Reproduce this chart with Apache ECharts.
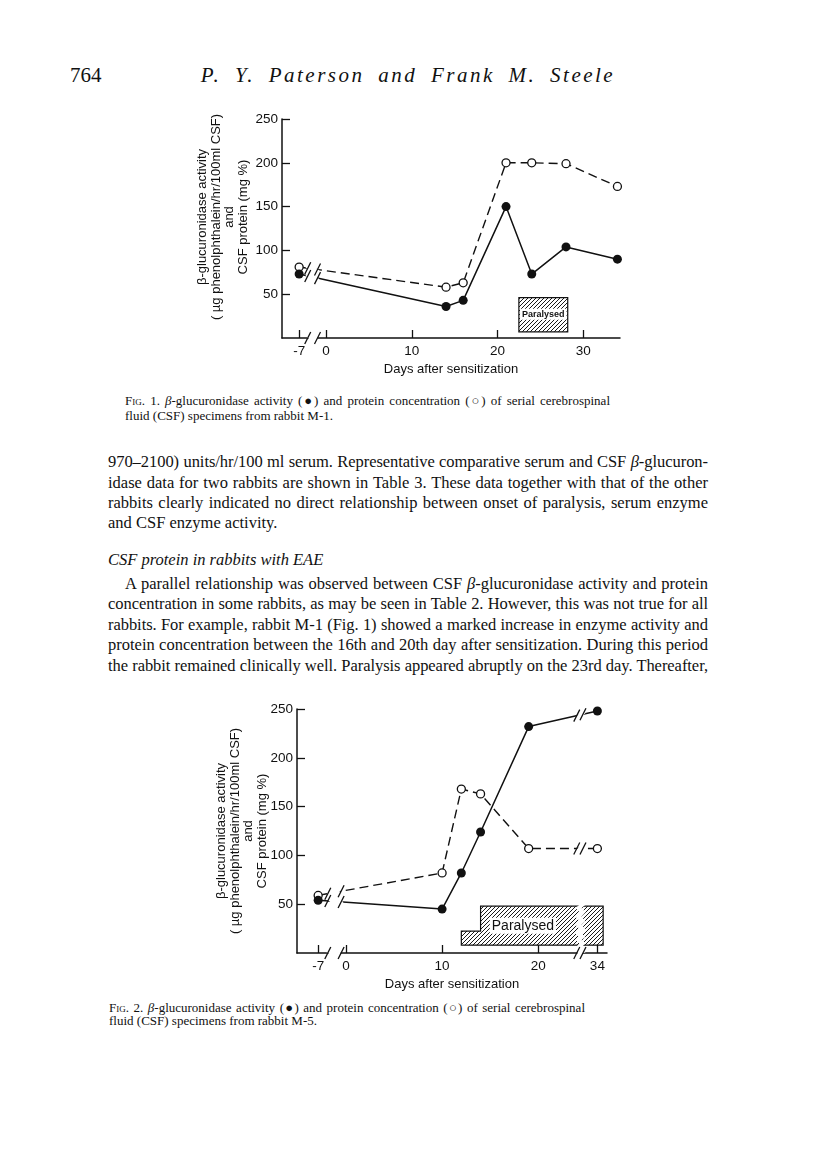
<!DOCTYPE html>
<html>
<head>
<meta charset="utf-8">
<script src="https://cdn.jsdelivr.net/npm/echarts@6.0.0/dist/echarts.min.js"></script>
<style>
  body { margin: 0; width: 816px; height: 1151px; position: relative; overflow: hidden; background: #fff; color: #111; font-family: "Liberation Serif", serif; }
  .t { position: absolute; white-space: normal; }
  .j { text-align: justify; text-align-last: justify; }
  .body { left: 108px; width: 600px; font-size: 16.5px; line-height: 20px; }
  .cap { font-size: 13px; line-height: 14px; }
  .sc { font-variant: small-caps; }
  .chart { position: absolute; left: 0; width: 816px; }
</style>
</head>
<body>
<div class="t" style="left:70px;top:63px;font-size:21px;line-height:24px;">764</div>
<div class="t" style="left:186px;top:63px;width:444px;font-size:21px;line-height:24px;font-style:italic;text-align:center;letter-spacing:2.5px;word-spacing:6px;">P. Y. Paterson and Frank M. Steele</div>

<div id="fig1" class="chart" style="top:90px;height:300px;"></div>

<div class="t cap j" style="left:125px;top:394px;width:485px;"><span class="sc">Fig</span>. 1. <i>β</i>-glucuronidase activity (●) and protein concentration (○) of serial cerebrospinal</div>
<div class="t cap" style="left:125px;top:409px;">fluid (CSF) specimens from rabbit M-1.</div>

<div class="t body j" style="top:452px;">970–2100) units/hr/100 ml serum. Representative comparative serum and CSF <i>β</i>-glucuron-</div>
<div class="t body j" style="top:473px;">idase data for two rabbits are shown in Table 3. These data together with that of the other</div>
<div class="t body j" style="top:493px;">rabbits clearly indicated no direct relationship between onset of paralysis, serum enzyme</div>
<div class="t body" style="top:513px;">and CSF enzyme activity.</div>
<div class="t body" style="top:550px;font-style:italic;">CSF protein in rabbits with EAE</div>
<div class="t body j" style="top:574px;left:125px;width:583px;">A parallel relationship was observed between CSF <i>β</i>-glucuronidase activity and protein</div>
<div class="t body j" style="top:594px;">concentration in some rabbits, as may be seen in Table 2. However, this was not true for all</div>
<div class="t body j" style="top:615px;">rabbits. For example, rabbit M-1 (Fig. 1) showed a marked increase in enzyme activity and</div>
<div class="t body j" style="top:635px;">protein concentration between the 16th and 20th day after sensitization. During this period</div>
<div class="t body j" style="top:656px;">the rabbit remained clinically well. Paralysis appeared abruptly on the 23rd day. Thereafter,</div>

<div id="fig2" class="chart" style="top:690px;height:310px;"></div>

<div class="t cap j" style="left:109px;top:1001px;width:476px;"><span class="sc">Fig</span>. 2. <i>β</i>-glucuronidase activity (●) and protein concentration (○) of serial cerebrospinal</div>
<div class="t cap" style="left:109px;top:1014px;">fluid (CSF) specimens from rabbit M-5.</div>

<script>
// Fig. 1, rabbit M-1
const fig1Days = [-7, 14, 16, 21, 24, 28, 34];
const fig1Enzyme = [73, 36, 43, 150, 73, 104, 90];
const fig1Protein = [81, 58, 63, 200, 200, 199, 173];
const fig1Ticks = [-7, 0, 10, 20, 30];
// paralysed period: days x protein-scale height
const fig1ParalysedDays = [22.5, 28.2];
const fig1ParalysedLevels = [7, 46];

// Fig. 2, rabbit M-5
const fig2Days = [-7, 10, 12, 14, 19, 34];
const fig2Enzyme = [54, 45, 82, 124, 232, 248];
const fig2Protein = [59, 82, 168, 163, 107, 107];
const fig2Ticks = [-7, 0, 10, 20, 34];
const fig2ParalysedDays = [12, 14, 34.6];
const fig2ParalysedLevels = [8, 22.5, 48];

const yTicks = [50, 100, 150, 200, 250];
const yTitle = 'β-glucuronidase activity\n( µg phenolphthalein/hr/100ml CSF)\nand\nCSF protein (mg %)';

const INK = '#111';
const SANS = '"Liberation Sans", Arial, sans-serif';

// squeeze each printed line so it stays on one line
document.querySelectorAll('.t').forEach(el => {
  const lh = parseFloat(getComputedStyle(el).lineHeight);
  let ls = parseFloat(el.style.letterSpacing) || 0;
  while (el.offsetHeight > lh * 1.5 && ls > -2) {
    ls -= 0.05;
    el.style.letterSpacing = ls + 'px';
  }
});

// hatch for the "Paralysed" boxes
const hatch = document.createElement('canvas');
hatch.width = 4; hatch.height = 4;
(function () {
  const c = hatch.getContext('2d');
  c.strokeStyle = '#1a1a1a';
  c.lineWidth = 1;
  c.beginPath();
  c.moveTo(0, 4); c.lineTo(4, 0);
  c.moveTo(-1, 1); c.lineTo(1, -1);
  c.moveTo(3, 5); c.lineTo(5, 3);
  c.stroke();
})();

function pairs(xs, ys) {
  return xs.map((x, i) => [x, ys[i]]);
}

function buildOption(cfg) {
  return {
    animation: false,
    grid: cfg.grid,
    xAxis: {
      type: 'value',
      z: 10,
      min: cfg.xMin,
      max: cfg.xMax,
      breaks: cfg.breaks,
      breakArea: {
        show: true,
        itemStyle: { color: '#fff', borderWidth: 0, opacity: 1 },
        zigzagAmplitude: 2,
        zigzagMinSpan: 3,
        zigzagMaxSpan: 5,
        zigzagZ: 100,
        expandOnClick: false
      },
      name: 'Days after sensitization',
      nameLocation: 'middle',
      nameGap: cfg.nameGap,
      nameTextStyle: { fontFamily: SANS, fontSize: 13, color: INK },
      axisLine: { onZero: false, lineStyle: { color: INK, width: 1.5 } },
      axisTick: { inside: true, length: 8, customValues: cfg.ticks, lineStyle: { color: INK, width: 1.3 } },
      axisLabel: { customValues: cfg.ticks, fontFamily: SANS, fontSize: 13.5, color: INK, margin: 6 },
      splitLine: { show: false }
    },
    yAxis: {
      type: 'value',
      min: 0,
      max: 250,
      interval: 50,
      axisLine: { show: true, onZero: false, lineStyle: { color: INK, width: 1.5 } },
      axisTick: { inside: true, length: 8, customValues: yTicks, lineStyle: { color: INK, width: 1.3 } },
      axisLabel: { customValues: yTicks, fontFamily: SANS, fontSize: 13.5, color: INK, margin: 4 },
      splitLine: { show: false }
    },
    graphic: [{
      type: 'text',
      x: cfg.titleX,
      y: cfg.titleY,
      rotation: Math.PI / 2,
      style: {
        text: yTitle,
        fontFamily: SANS,
        fontSize: 13,
        lineHeight: 13.4,
        fill: INK,
        align: 'center',
        verticalAlign: 'middle'
      }
    }],
    series: [
      {
        type: 'custom',
        z: 1,
        data: [0],
        renderItem: function (params, api) {
          const pts = cfg.paraPoly.map(p => api.coord(p));
          const c = api.coord(cfg.paraLabel);
          return {
            type: 'group',
            children: [
              { type: 'polygon', shape: { points: pts },
                style: { fill: { image: hatch, repeat: 'repeat' }, stroke: INK, lineWidth: 1.2 } },
              { type: 'text', x: c[0], y: c[1],
                style: { text: 'Paralysed', fill: INK, font: cfg.paraFont, align: 'center', verticalAlign: 'middle',
                         backgroundColor: '#fff', padding: [1, 2] } }
            ]
          };
        }
      },
      {
        name: 'protein',
        type: 'line',
        data: pairs(cfg.days, cfg.protein),
        symbol: 'circle',
        symbolSize: 8,
        itemStyle: { color: '#fff', borderColor: INK, borderWidth: 1.3 },
        lineStyle: { color: INK, width: 1.4, type: [9, 5] },
        z: 3
      },
      {
        name: 'enzyme',
        type: 'line',
        data: pairs(cfg.days, cfg.enzyme),
        symbol: 'circle',
        symbolSize: 9,
        itemStyle: { color: INK, borderWidth: 0 },
        lineStyle: { color: INK, width: 1.5 },
        z: 4
      }
    ]
  };
}

// little "/" marks where the axis and the data lines are broken
function addBreakMarks(chart, cfg) {
  const marks = [];
  const slash = (x, y) => marks.push({
    type: 'line', z: 200,
    shape: { x1: x - 3, y1: y + 6, x2: x + 3, y2: y - 6 },
    style: { stroke: INK, lineWidth: 1.3 }
  });
  const axisY = chart.convertToPixel({ yAxisIndex: 0 }, 0);
  const lines = [cfg.enzyme, cfg.protein];
  cfg.breaks.forEach(b => {
    const xs = chart.convertToPixel({ xAxisIndex: 0 }, b.start);
    const xe = chart.convertToPixel({ xAxisIndex: 0 }, b.end);
    slash(xs, axisY);
    slash(xe, axisY);
    lines.forEach(vals => {
      for (let i = 0; i < cfg.days.length - 1; i++) {
        if (cfg.days[i] < b.start && cfg.days[i + 1] > b.end) {
          const p0 = chart.convertToPixel({ gridIndex: 0 }, [cfg.days[i], vals[i]]);
          const p1 = chart.convertToPixel({ gridIndex: 0 }, [cfg.days[i + 1], vals[i + 1]]);
          [xs, xe].forEach(x => {
            const y = p0[1] + (p1[1] - p0[1]) * (x - p0[0]) / (p1[0] - p0[0]);
            slash(x, y);
          });
        }
      }
    });
  });
  const opt = chart.getOption();
  chart.setOption({ graphic: opt.graphic[0].elements.concat(marks) }, { replaceMerge: ['graphic'] });
}

const fig1Cfg = {
  grid: { left: 282, right: 196, top: 29, bottom: 52 },
  xMin: -9, xMax: 34.3,
  breaks: [{ start: -6, end: -1, gap: '2.9%' }],
  ticks: fig1Ticks,
  nameGap: 25,
  titleX: 223, titleY: 127,
  days: fig1Days, enzyme: fig1Enzyme, protein: fig1Protein,
  paraPoly: [
    [fig1ParalysedDays[0], fig1ParalysedLevels[0]],
    [fig1ParalysedDays[0], fig1ParalysedLevels[1]],
    [fig1ParalysedDays[1], fig1ParalysedLevels[1]],
    [fig1ParalysedDays[1], fig1ParalysedLevels[0]]
  ],
  paraLabel: [(fig1ParalysedDays[0] + fig1ParalysedDays[1]) / 2, 27],
  paraFont: 'bold 9px ' + SANS
};

const fig2Cfg = {
  grid: { left: 297, right: 209, top: 19, bottom: 47 },
  xMin: -9.2, xMax: 35,
  breaks: [{ start: -6, end: -0.5, gap: '4.3%' }, { start: 24, end: 32.5, gap: '2%' }],
  ticks: fig2Ticks,
  nameGap: 23,
  titleX: 242, titleY: 141,
  days: fig2Days, enzyme: fig2Enzyme, protein: fig2Protein,
  paraPoly: [
    [fig2ParalysedDays[0], fig2ParalysedLevels[0]],
    [fig2ParalysedDays[0], fig2ParalysedLevels[1]],
    [fig2ParalysedDays[1], fig2ParalysedLevels[1]],
    [fig2ParalysedDays[1], fig2ParalysedLevels[2]],
    [fig2ParalysedDays[2], fig2ParalysedLevels[2]],
    [fig2ParalysedDays[2], fig2ParalysedLevels[0]]
  ],
  paraLabel: [18.4, 28],
  paraFont: '14px ' + SANS
};

const chart1 = echarts.init(document.getElementById('fig1'), null, { renderer: 'canvas' });
chart1.setOption(buildOption(fig1Cfg));
addBreakMarks(chart1, fig1Cfg);

const chart2 = echarts.init(document.getElementById('fig2'), null, { renderer: 'canvas' });
chart2.setOption(buildOption(fig2Cfg));
addBreakMarks(chart2, fig2Cfg);
</script>
</body>
</html>
